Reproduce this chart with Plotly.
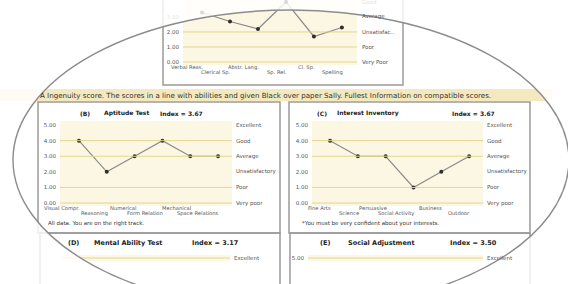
import numpy as np
import plotly.graph_objects as go

W, H = 568, 284

# ---------------- data ----------------
level_values = [0, 1, 2, 3, 4, 5]
level_ticks = ["0.00", "1.00", "2.00", "3.00", "4.00", "5.00"]
level_names = ["Very poor", "Poor", "Unsatisfactory", "Average", "Good", "Excellent"]
top_level_names = ["Very Poor", "Poor", "Unsatisfac..", "Average", "Good", "Excellent"]

top_categories = ["Verbal Reas.", "Clerical Sp.", "Abstr. Lang.", "Sp. Rel.", "Cl. Sp.", "Spelling"]
top_values = [3.3, 2.7, 2.2, 4.0, 1.7, 2.3]

aptitude_categories = ["Visual Compr.", "Reasoning", "Numerical", "Form Relation", "Mechanical", "Space Relations"]
aptitude_values = [4, 2, 3, 4, 3, 3]

interest_categories = ["Fine Arts", "Science", "Persuasive", "Social Activity", "Business", "Outdoor"]
interest_values = [4, 3, 3, 1, 2, 3]

band_text = ("A Ingenuity score. The scores in a line with abilities and given Black over paper Sally. "
             "Fullest Information on compatible scores.")
aptitude_note = "All data. You are on the right track."
interest_note = "*You must be very confident about your interests."

# ---------------- styling ----------------
CREAM = "#FBF7E2"
GRID = "#E3D68F"
BORDER = "#9A9A9A"
TXT = "#3A3A3A"
FONT = "DejaVu Sans"

# ellipse (vignette) geometry in pixels
cx, cy, ea, eb = 291, 160, 278, 150


def px(x):
    return x / W


def py(y):
    return 1 - y / H


def inside(xp, yp):
    return ((xp - cx) / ea) ** 2 + ((yp - cy) / eb) ** 2 <= 1.03


def op(xp, yp):
    return 1.0 if inside(xp, yp) else 0.18


fig = go.Figure()
annotations = []
shapes = []

charts = [
    dict(n=1, box=(183, 357, 0, 65), xr=[-0.68, 5.54], yr=[-0.2, 4.13],
         cats=top_categories, vals=top_values, rows=(67, 72), grid=[0, 1, 2],
         names=top_level_names, right_gap=3),
    dict(n=2, box=(60, 232, 121, 206), xr=[-0.68, 5.5], yr=[-0.19, 5.26],
         cats=aptitude_categories, vals=aptitude_values, rows=(208, 213), grid=[0, 1, 3, 4],
         names=level_names, right_gap=2),
    dict(n=3, box=(312, 483, 121, 206), xr=[-0.65, 5.5], yr=[-0.19, 5.26],
         cats=interest_categories, vals=interest_values, rows=(208, 213), grid=[0, 1, 3, 4],
         names=level_names, right_gap=2),
    dict(n=4, box=(62, 230, 255, 261), xr=[-0.68, 5.5], yr=[4.81, 5.19],
         cats=None, vals=None, rows=None, grid=[5], names=level_names, right_gap=2),
    dict(n=5, box=(308, 483, 255, 261), xr=[-0.65, 5.5], yr=[4.81, 5.19],
         cats=None, vals=None, rows=None, grid=[5], names=level_names, right_gap=2),
]

layout_axes = {}
for c in charts:
    n = c["n"]
    x0, x1, y0, y1 = c["box"]
    xa = "xaxis" if n == 1 else f"xaxis{n}"
    ya = "yaxis" if n == 1 else f"yaxis{n}"
    xr_ = "x" if n == 1 else f"x{n}"
    yr_ = "y" if n == 1 else f"y{n}"
    layout_axes[xa] = dict(domain=[px(x0), px(x1)], range=c["xr"], anchor=yr_,
                           showgrid=False, zeroline=False, showline=False,
                           showticklabels=False, ticks="", fixedrange=True)
    show_left = n != 4
    layout_axes[ya] = dict(domain=[max(0, py(y1)), min(1, py(y0))], range=c["yr"], anchor=xr_,
                           tickmode="array", tickvals=level_values, ticktext=level_ticks,
                           showticklabels=show_left, ticks="", ticklabelstandoff=3,
                           tickfont=dict(size=5.5, color="#555", family=FONT),
                           showgrid=False, zeroline=False, showline=False, fixedrange=True)
    if c["cats"] is not None:
        layout_axes[xa]["type"] = "category"
        fig.add_trace(go.Scatter(
            x=c["cats"], y=c["vals"], xaxis=xr_, yaxis=yr_, mode="lines+markers",
            line=dict(color="#8A8A8A", width=1.2),
            marker=dict(color="#2E2E2E", size=4),
            hoverinfo="skip", showlegend=False, cliponaxis=True))
        xr0, xr1 = c["xr"]
        for i, cat in enumerate(c["cats"]):
            xpix = x0 + (i - xr0) / (xr1 - xr0) * (x1 - x0)
            ypix = c["rows"][i % 2]
            annotations.append(dict(
                x=cat, xref=xr_, y=py(ypix), yref="paper",
                text=cat, showarrow=False, xanchor="right", yanchor="middle", xshift=3,
                opacity=op(xpix - 15, ypix),
                font=dict(size=5.2, color="#555", family=FONT)))
    for g in c["grid"]:
        shapes.append(dict(type="line", xref=f"{xr_} domain", yref=yr_, x0=0, x1=1, y0=g, y1=g,
                           line=dict(color=GRID, width=1), layer="above"))
    yr0, yr1 = c["yr"]
    for v, name in zip(level_values, c["names"]):
        if yr0 - 0.1 <= v <= yr1 + 0.05:
            ypix = y1 - (v - yr0) / (yr1 - yr0) * (y1 - y0)
            annotations.append(dict(
                x=px(x1 + c["right_gap"]), xref="paper", y=v, yref=yr_, text=name,
                showarrow=False, xanchor="left", yanchor="middle",
                opacity=op(x1 + 20, ypix),
                font=dict(size=5.5, color="#555", family=FONT)))


def rect(x0, x1, y0, y1):
    shapes.append(dict(type="rect", xref="paper", yref="paper",
                       x0=px(x0), x1=px(x1), y0=py(y1), y1=py(y0),
                       line=dict(color=BORDER, width=1.5), fillcolor="rgba(0,0,0,0)", layer="below"))


rect(163, 403, -5, 85)      # top chart
rect(38, 280, 102, 233)     # aptitude
rect(289, 530, 102, 233)    # interest
rect(40, 280, 233, 300)     # mental ability
rect(290, 530, 233, 300)    # social adjustment

# band strip
shapes.append(dict(type="rect", xref="paper", yref="paper", x0=px(0), x1=px(552),
                   y0=py(101), y1=py(89), fillcolor="#F4E9BE", line=dict(width=0), layer="below"))
annotations.append(dict(x=px(38), y=py(95), xref="paper", yref="paper", text=band_text,
                        showarrow=False, xanchor="left", yanchor="middle",
                        font=dict(size=7.1, color="#333", family=FONT)))


def title(parts, y, size):
    for x, t in parts:
        annotations.append(dict(x=px(x), y=py(y), xref="paper", yref="paper", text=f"<b>{t}</b>",
                                showarrow=False, xanchor="left", yanchor="middle",
                                font=dict(size=size, color="#222", family=FONT)))


title([(78, "(B)"), (102, "Aptitude Test"), (158, "Index = 3.67")], 113, 6)
title([(315, "(C)"), (335, "Interest Inventory"), (450, "Index = 3.67")], 113, 6)
title([(66, "(D)"), (92, "Mental Ability Test"), (190, "Index = 3.17")], 243, 6.5)
title([(318, "(E)"), (346, "Social Adjustment"), (448, "Index = 3.50")], 243, 6.5)

for x, t in [(46, aptitude_note), (300, interest_note)]:
    annotations.append(dict(x=px(x), y=py(223), xref="paper", yref="paper", text=t,
                            showarrow=False, xanchor="left", yanchor="middle",
                            font=dict(size=5.5, color="#333", family=FONT)))

# vignette outside the ellipse + ellipse outline
t = np.linspace(0, 2 * np.pi, 180)
ex = (cx + ea * np.cos(t)) / W
ey = 1 - (cy + eb * np.sin(t)) / H
path = "M0,0L1,0L1,1L0,1ZM" + "L".join(f"{x:.4f},{y:.4f}" for x, y in zip(ex, ey)) + "Z"
shapes.append(dict(type="path", xref="paper", yref="paper", path=path,
                   fillcolor="rgba(255,255,255,0.82)", line=dict(width=0),
                   fillrule="evenodd", layer="above"))
shapes.append(dict(type="circle", xref="paper", yref="paper",
                   x0=(cx - ea) / W, x1=(cx + ea) / W, y0=1 - (cy + eb) / H, y1=1 - (cy - eb) / H,
                   line=dict(color="#8C8C8C", width=1.4), layer="above"))

fig.update_layout(
    width=W, height=H, margin=dict(l=0, r=0, t=0, b=0),
    paper_bgcolor="white", plot_bgcolor=CREAM,
    font=dict(family=FONT, color=TXT),
    shapes=shapes, annotations=annotations, showlegend=False,
    **layout_axes,
)

fig.write_html("out.html", config={"displayModeBar": False, "staticPlot": True},
               post_script="document.body.style.margin='0px';document.body.style.overflow='hidden';")
